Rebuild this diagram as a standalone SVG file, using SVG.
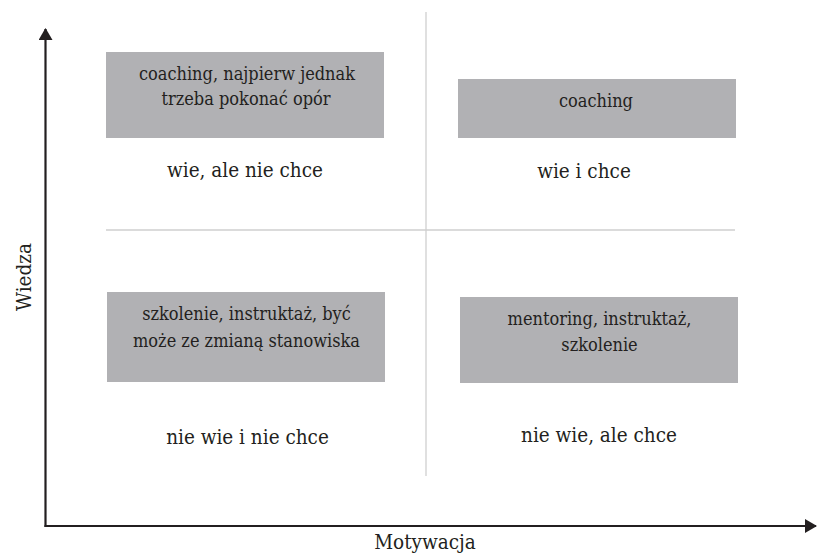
<svg xmlns="http://www.w3.org/2000/svg" width="817" height="553" viewBox="0 0 817 553">
  <style>
    .box { fill: #b1b1b4; }
    text { font-family: 'DejaVu Serif', serif; font-stretch: condensed; fill: #231f20; text-anchor: middle; }
    .in { font-size: 18px; }
    .lab { font-size: 20.5px; }
    .axis { stroke: #231f20; stroke-width: 2.2; fill: none; }
    .grid { stroke: #cfcfcf; stroke-width: 1.3; fill: none; }
  </style>
  <defs>
    <marker id="arrow" viewBox="0 0 12 14" refX="11" refY="7" markerWidth="12" markerHeight="14" markerUnits="userSpaceOnUse" orient="auto">
      <path d="M0,0 L12,7 L0,14 Z" fill="#231f20"/>
    </marker>
  </defs>

  <!-- quadrant dividers -->
  <g id="dividers">
    <line class="grid" x1="106" y1="230" x2="735" y2="230"/>
    <line class="grid" x1="426" y1="12" x2="426" y2="476"/>
  </g>

  <!-- axes -->
  <g id="connectors">
    <path class="axis" d="M45.5,527 L45.5,29" marker-end="url(#arrow)"/>
    <path class="axis" d="M44.5,526 L816,526" marker-end="url(#arrow)"/>
  </g>

  <text class="lab" x="425" y="548.5">Motywacja</text>
  <text class="lab" transform="translate(31,277) rotate(-90)">Wiedza</text>

  <g id="q-top-left">
    <rect class="box" x="106" y="52" width="278" height="86"/>
    <text class="in" x="247" y="79.5">coaching, najpierw jednak</text>
    <text class="in" x="246" y="105">trzeba pokonać opór</text>
    <text class="lab" x="245" y="177">wie, ale nie chce</text>
  </g>

  <g id="q-top-right">
    <rect class="box" x="458" y="79" width="278" height="59"/>
    <text class="in" x="596" y="107">coaching</text>
    <text class="lab" x="584" y="178">wie i chce</text>
  </g>

  <g id="q-bottom-left">
    <rect class="box" x="107" y="292" width="278" height="90"/>
    <text class="in" x="246.5" y="320">szkolenie, instruktaż, być</text>
    <text class="in" x="246.5" y="346.5">może ze zmianą stanowiska</text>
    <text class="lab" x="247.5" y="444">nie wie i nie chce</text>
  </g>

  <g id="q-bottom-right">
    <rect class="box" x="460" y="297" width="278" height="86"/>
    <text class="in" x="599.5" y="324.5">mentoring, instruktaż,</text>
    <text class="in" x="599.5" y="350.5">szkolenie</text>
    <text class="lab" x="599" y="442">nie wie, ale chce</text>
  </g>
</svg>
